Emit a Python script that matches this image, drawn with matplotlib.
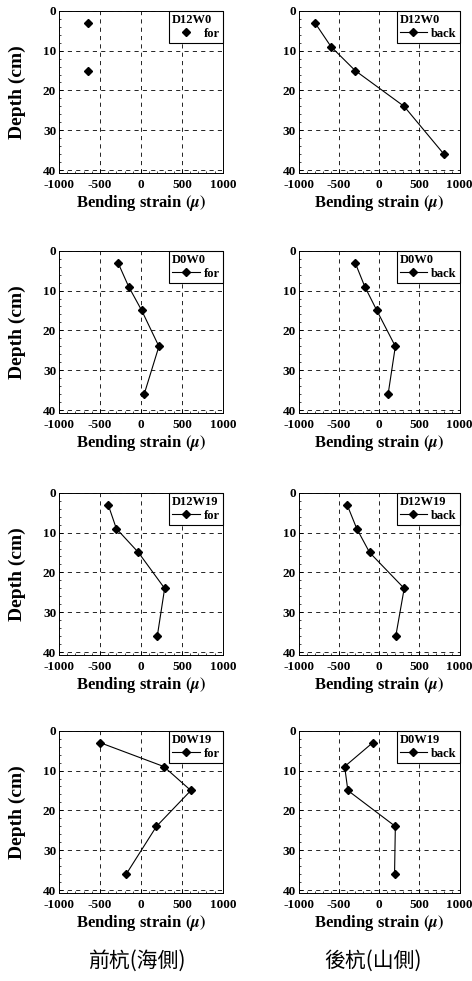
import numpy as np
import matplotlib.pyplot as plt
from matplotlib.ticker import MultipleLocator

plt.rcParams['font.family'] = ['Liberation Serif', 'DejaVu Serif']
plt.rcParams['font.weight'] = 'bold'
plt.rcParams['axes.labelweight'] = 'bold'
plt.rcParams['mathtext.fontset'] = 'stix'
plt.rcParams['axes.unicode_minus'] = False

# depths of the gauges (cm)
depth = [3, 9, 15, 24, 36]
depth_part = [3, 15]

# bending strain readings, front pile (sea side) and back pile (hill side)
d12w0_for = [-640, -640]
d12w0_back = [-800, -600, -300, 310, 805]
d0w0_for = [-280, -150, 10, 220, 40]
d0w0_back = [-300, -180, -30, 200, 110]
d12w19_for = [-400, -300, -30, 290, 200]
d12w19_back = [-400, -280, -120, 310, 205]
d0w19_for = [-500, 280, 610, 190, -180]
d0w19_back = [-80, -430, -390, 200, 190]

titles = ['D12W0', 'D0W0', 'D12W19', 'D0W19']
col_labels = ['前杭(海側)', '後杭(山側)']

panels = [
    (depth_part, d12w0_for, 'for', False), (depth, d12w0_back, 'back', True),
    (depth, d0w0_for, 'for', True), (depth, d0w0_back, 'back', True),
    (depth, d12w19_for, 'for', True), (depth, d12w19_back, 'back', True),
    (depth, d0w19_for, 'for', True), (depth, d0w19_back, 'back', True),
]

fig = plt.figure(figsize=(4.72, 9.81), dpi=100)

lefts = [0.125, 0.633]
widths = [0.347, 0.341]
bottoms = [0.8236, 0.579, 0.3323, 0.0897]
h = 0.1655

for i, (yy, xx, lab, joined) in enumerate(panels):
    r, c = divmod(i, 2)
    ax = fig.add_axes([lefts[c], bottoms[r], widths[c], h])
    ax.plot(xx, yy, color='black', lw=0.8 if joined else 0,
            marker='D', ms=4.5, label=lab)
    ax.set_xlim(-1000, 1000)
    ax.set_ylim(40.7, 0)
    ax.set_xticks([-1000, -500, 0, 500, 1000])
    ax.set_yticks([0, 10, 20, 30, 40])
    ax.yaxis.set_minor_locator(MultipleLocator(2))
    ax.xaxis.set_minor_locator(MultipleLocator(100))
    ax.tick_params(direction='in', length=3, width=0.7)
    ax.tick_params(axis='x', labelsize=9.5, pad=4)
    ax.tick_params(axis='y', labelsize=9.5, pad=2)
    ax.tick_params(which='minor', direction='in', length=1.5, width=0.5)
    ax.grid(True, color='black', ls=(0, (5, 5)), lw=0.6)
    for s in ax.spines.values():
        s.set_linewidth(0.7)
    ax.set_xlabel(r'Bending strain $(\mu)$', fontsize=12, labelpad=2)
    if c == 0:
        ax.set_ylabel('Depth (cm)', fontsize=14, labelpad=12)
    leg = ax.legend(title=titles[r], loc='upper right', borderaxespad=0,
                    fancybox=False, edgecolor='black', framealpha=1,
                    fontsize=9, title_fontsize=9, alignment='left',
                    handlelength=2.2, handletextpad=0.3, borderpad=0.25,
                    labelspacing=0.15)
    leg.get_frame().set_linewidth(0.8)

fig.text(0.29, 0.021, col_labels[0], family=['Noto Sans CJK TC'],
         fontsize=15, weight='normal', ha='center', va='center')
fig.text(0.79, 0.021, col_labels[1], family=['Noto Sans CJK TC'],
         fontsize=15, weight='normal', ha='center', va='center')

plt.savefig('out.png', dpi=100)
